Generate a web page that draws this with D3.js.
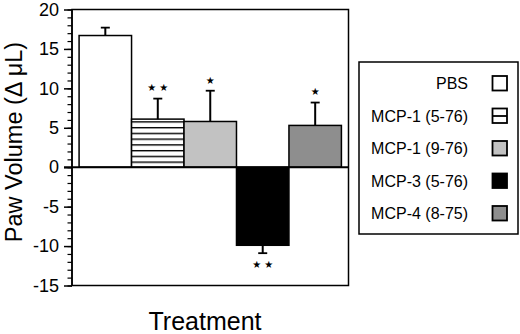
<!DOCTYPE html>
<html><head><meta charset="utf-8">
<script src="https://cdn.jsdelivr.net/npm/d3@7"></script>
<style>
html,body{margin:0;padding:0;background:#fff;}
text{font-family:"Liberation Sans",Arial,Helvetica,sans-serif;fill:#000;}
</style></head>
<body>
<svg id="c" width="520" height="334"></svg>
<script>
const categories = ["PBS","MCP-1 (5-76)","MCP-1 (9-76)","MCP-3 (5-76)","MCP-4 (8-75)"];
const values = [16.7, 6.1, 5.8, -9.9, 5.3];
const errors = [1.0, 2.6, 3.9, 1.0, 2.9];
const significance = ["", "**", "*", "**", "*"];
const fills = ["#ffffff", "stripes", "#c2c2c2", "#000000", "#8e8e8e"];
const yTicks = [-15,-10,-5,0,5,10,15,20];
const yMinorTicks = d3.range(-15, 21, 1);

const svg = d3.select("#c");
const L = 72, R = 348.5, T = 9.5, B = 285.5;

const x = d3.scaleBand().domain(categories).range([L, R]).paddingInner(0).paddingOuter(0.135);
const y = d3.scaleLinear().domain([-15, 20]).range([B, T]);

const defs = svg.append("defs");
const pat = defs.append("pattern").attr("id","stripes").attr("patternUnits","userSpaceOnUse")
  .attr("x",0).attr("y",y(0)).attr("width",10).attr("height",5.75);
pat.append("rect").attr("width",10).attr("height",5.75).attr("fill","#fff");
pat.append("rect").attr("y",0).attr("width",10).attr("height",1.4).attr("fill","#000");

const fillOf = f => f === "stripes" ? "url(#stripes)" : f;

// frame
svg.append("rect").attr("x",L).attr("y",T).attr("width",R-L).attr("height",B-T)
  .attr("fill","none").attr("stroke","#000").attr("stroke-width",1.5);

// bars
const bars = categories.map((c,i)=>({c, v:values[i], e:errors[i], s:significance[i], f:fills[i]}));
svg.selectAll("rect.bar").data(bars).join("rect").attr("class","bar")
  .attr("x", d=>x(d.c)).attr("width", x.bandwidth())
  .attr("y", d=>y(Math.max(0,d.v))).attr("height", d=>Math.abs(y(d.v)-y(0)))
  .attr("fill", d=>fillOf(d.f)).attr("stroke","#000").attr("stroke-width",1.5);

// error bars
const eb = svg.append("g");
bars.forEach(d=>{
  const cx = x(d.c) + x.bandwidth()/2;
  const tip = d.v >= 0 ? d.v + d.e : d.v - d.e;
  eb.append("line").attr("x1",cx).attr("x2",cx).attr("y1",y(d.v)).attr("y2",y(tip))
    .attr("stroke","#000").attr("stroke-width",2);
  eb.append("line").attr("x1",cx-4.5).attr("x2",cx+4.5).attr("y1",y(tip)).attr("y2",y(tip))
    .attr("stroke","#000").attr("stroke-width",1.8);
  if (d.s) {
    const sy = d.v >= 0 ? y(tip) - 11 : y(tip) + 11;
    eb.append("text").attr("x",cx).attr("y",sy).attr("dy","0.38em")
      .attr("text-anchor","middle").style("font-family","DejaVu Sans")
      .style("font-size","10px").text(d.s.split("").map(()=>"★").join(" "));
  }
});

// zero line
svg.append("line").attr("x1",L-8).attr("x2",R).attr("y1",y(0)).attr("y2",y(0))
  .attr("stroke","#000").attr("stroke-width",2);

// y axis minor ticks
svg.append("g").attr("transform",`translate(${L},0)`)
  .call(d3.axisLeft(y).tickValues(yMinorTicks).tickSize(4.5).tickFormat(""))
  .call(g=>{g.select(".domain").remove(); g.selectAll("line").attr("stroke-width",1.2);});
// y axis major
const ya = svg.append("g").attr("transform",`translate(${L},0)`)
  .call(d3.axisLeft(y).tickValues(yTicks).tickSize(8).tickPadding(5).tickFormat(d => String(d)));
ya.select(".domain").attr("stroke-width",1.5).attr("d",`M0,${T}V${B}`);
ya.selectAll("line").attr("stroke-width",1.5);
ya.selectAll("text").style("font-size","18px").style("font-family","'Liberation Sans',Arial,sans-serif");

// axis titles
svg.append("text").attr("transform","translate(21.5,142) rotate(-90)")
  .attr("text-anchor","middle").style("font-size","23.5px").text("Paw Volume (Δ μL)");
svg.append("text").attr("x",205).attr("y",330).attr("text-anchor","middle")
  .style("font-size","25px").text("Treatment");

// legend
const lg = svg.append("g");
lg.append("rect").attr("x",359).attr("y",62).attr("width",159).attr("height",172)
  .attr("fill","#fff").attr("stroke","#000").attr("stroke-width",1.5);
const ly = d3.scalePoint().domain(categories).range([83.5, 213.5]);
bars.forEach(d=>{
  const cy = ly(d.c);
  lg.append("text").attr("x",468).attr("y",cy).attr("dy","0.35em").attr("text-anchor","end")
    .style("font-size","16px").text(d.c);
  lg.append("rect").attr("x",492.5).attr("y",cy-7.5).attr("width",14.5).attr("height",14.5)
    .attr("fill", d.f==="stripes" ? "#fff" : d.f).attr("stroke","#000").attr("stroke-width",1.8);
  if (d.f==="stripes") {
    lg.append("line").attr("x1",492.5).attr("x2",507).attr("y1",cy).attr("y2",cy)
      .attr("stroke","#000").attr("stroke-width",1.8);
  }
});
</script>
</body></html>
